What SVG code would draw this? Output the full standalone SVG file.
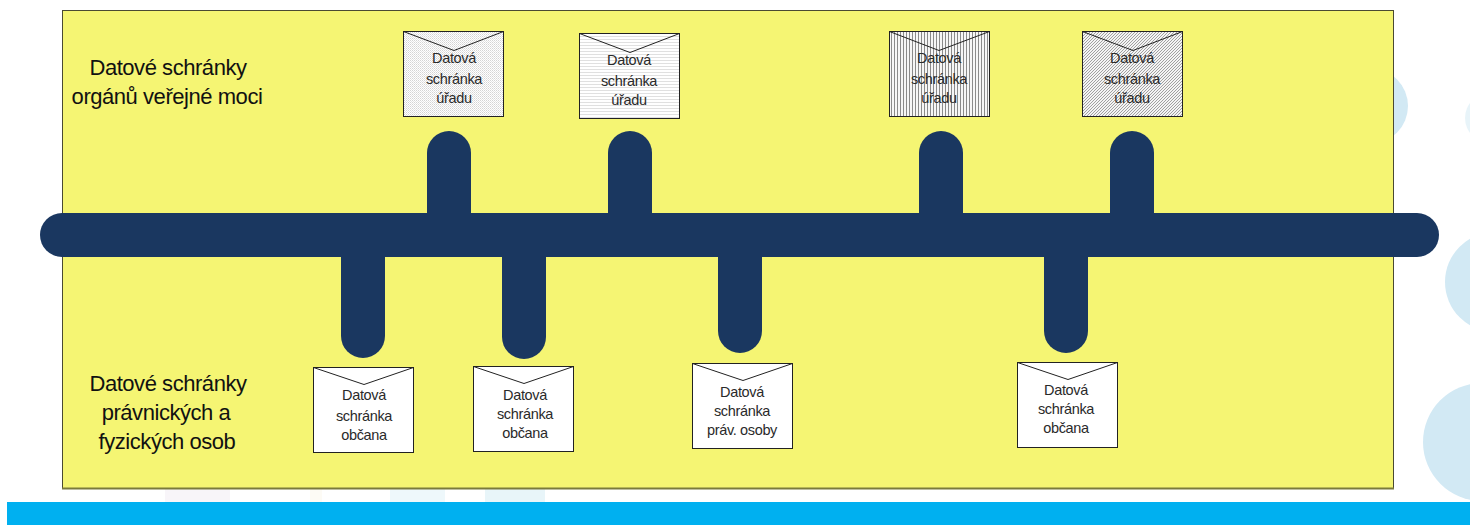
<svg xmlns="http://www.w3.org/2000/svg" width="1470" height="525" viewBox="0 0 1470 525">
<style>
.env{stroke:#222;stroke-width:1}
.flap{fill:none;stroke:#222;stroke-width:1}
.t{font-family:"Liberation Sans",Arial,sans-serif;font-size:14.5px;fill:#2a2a2a;text-anchor:middle;letter-spacing:-.35px}
.big{font-family:"Liberation Sans",Arial,sans-serif;font-size:22px;fill:#111;text-anchor:middle;letter-spacing:-.45px}
.wire{stroke:#1a3760;stroke-width:44;stroke-linecap:round;fill:none}
.blob{fill:#d2e9f4}
</style>
<defs>
<pattern id="dots" width="2" height="2" patternUnits="userSpaceOnUse"><rect width="2" height="2" fill="#fff"/><rect width="1" height="1" fill="#d4d4d4"/><rect x="1" y="1" width="1" height="1" fill="#e4e4e4"/></pattern>
<pattern id="hlines" width="3" height="3" patternUnits="userSpaceOnUse"><rect width="3" height="3" fill="#fff"/><rect width="3" height="1" fill="#e0e0e0"/></pattern>
<pattern id="vlines" width="3" height="3" patternUnits="userSpaceOnUse"><rect width="3" height="3" fill="#f6f6f6"/><rect width="1" height="3" fill="#8a8a8a"/></pattern>
<pattern id="diag" width="3" height="3" patternUnits="userSpaceOnUse"><rect width="3" height="3" fill="#f4f4f4"/><path d="M0 3L3 0M-1 1L1 -1M2 4L4 2" stroke="#a0a0a0" stroke-width="1"/></pattern>
</defs>
<rect width="1470" height="525" fill="#fff"/>
<g id="background">
<circle class="blob" cx="1370" cy="106" r="38"/>
<circle class="blob" cx="1490" cy="118" r="25" opacity=".5"/>
<circle class="blob" cx="1495" cy="282" r="50"/>
<circle class="blob" cx="1482" cy="442" r="59"/>
<rect x="165" y="489" width="65" height="13" fill="#f8f5f9"/>
<rect x="310" y="489" width="12" height="13" fill="#fdfbf5"/>
<rect x="390" y="489" width="55" height="13" fill="#eef8fb"/>
<rect x="485" y="489" width="60" height="13" fill="#e8f5f9"/>
<rect x="7" y="502" width="1463" height="23" fill="#00b0f0"/>
</g>
<g id="panel">
<rect x="62.500" y="10.500" width="1331" height="478" fill="#f5f573" stroke="#4a4a32" stroke-width="1"/>
<line x1="62" y1="488.500" x2="1394" y2="488.500" stroke="#7a7a3c" stroke-width="2"/>
</g>
<g id="label-top"><text class="big" x="168" y="75">Datové schránky</text><text class="big" x="167" y="104">orgánů veřejné moci</text></g>
<g id="label-bottom"><text class="big" x="168" y="391">Datové schránky</text><text class="big" x="166" y="420">právnických a</text><text class="big" x="167" y="449">fyzických osob</text></g>
<g id="connectors">
<line class="wire" x1="449" y1="153" x2="449" y2="235"/>
<line class="wire" x1="630" y1="153" x2="630" y2="235"/>
<line class="wire" x1="941" y1="153" x2="941" y2="235"/>
<line class="wire" x1="1132" y1="153" x2="1132" y2="235"/>
<line class="wire" x1="363" y1="235" x2="363" y2="336"/>
<line class="wire" x1="524" y1="235" x2="524" y2="337"/>
<line class="wire" x1="740" y1="235" x2="740" y2="331"/>
<line class="wire" x1="1066" y1="235" x2="1066" y2="331"/>
<line class="wire" x1="62" y1="235" x2="1417" y2="235"/>
</g>
<g id="box-1"><rect class="env" x="403.500" y="31.500" width="100" height="85" fill="url(#dots)"/><path class="flap" d="M403.500 31.500L454 50.500L503.500 31.500"/><text class="t" x="454" y="63">Datová</text><text class="t" x="454" y="84">schránka</text><text class="t" x="454" y="103">úřadu</text></g>
<g id="box-2"><rect class="env" x="579.500" y="33.500" width="100" height="85" fill="url(#hlines)"/><path class="flap" d="M579.500 33.500L630 52.500L679.500 33.500"/><text class="t" x="629" y="65">Datová</text><text class="t" x="629" y="86">schránka</text><text class="t" x="629" y="105">úřadu</text></g>
<g id="box-3"><rect class="env" x="889.500" y="31.500" width="100" height="85" fill="url(#vlines)"/><path class="flap" d="M889.500 31.500L939 50.500L989.500 31.500"/><text class="t" x="939" y="63">Datová</text><text class="t" x="939" y="84">schránka</text><text class="t" x="939" y="103">úřadu</text></g>
<g id="box-4"><rect class="env" x="1082.500" y="31.500" width="100" height="85" fill="url(#diag)"/><path class="flap" d="M1082.500 31.500L1133 50.500L1182.500 31.500"/><text class="t" x="1132" y="63">Datová</text><text class="t" x="1132" y="84">schránka</text><text class="t" x="1132" y="103">úřadu</text></g>
<g id="box-5"><rect class="env" x="313.500" y="367.500" width="100" height="85" fill="#fff"/><path class="flap" d="M313.500 367.500L364 384.500L413.500 367.500"/><text class="t" x="364" y="400">Datová</text><text class="t" x="364" y="421">schránka</text><text class="t" x="364" y="440">občana</text></g>
<g id="box-6"><rect class="env" x="473.500" y="366.500" width="100" height="85" fill="#fff"/><path class="flap" d="M473.500 366.500L524 383.500L573.500 366.500"/><text class="t" x="525" y="400">Datová</text><text class="t" x="525" y="419">schránka</text><text class="t" x="525" y="438">občana</text></g>
<g id="box-7"><rect class="env" x="692.500" y="363.500" width="100" height="85" fill="#fff"/><path class="flap" d="M692.500 363.500L743 380.500L792.500 363.500"/><text class="t" x="742" y="397">Datová</text><text class="t" x="742" y="416">schránka</text><text class="t" x="742" y="435">práv. osoby</text></g>
<g id="box-8"><rect class="env" x="1017.500" y="362.500" width="100" height="85" fill="#fff"/><path class="flap" d="M1017.500 362.500L1068 379.500L1117.500 362.500"/><text class="t" x="1066" y="395">Datová</text><text class="t" x="1066" y="414">schránka</text><text class="t" x="1066" y="433">občana</text></g>
</svg>
